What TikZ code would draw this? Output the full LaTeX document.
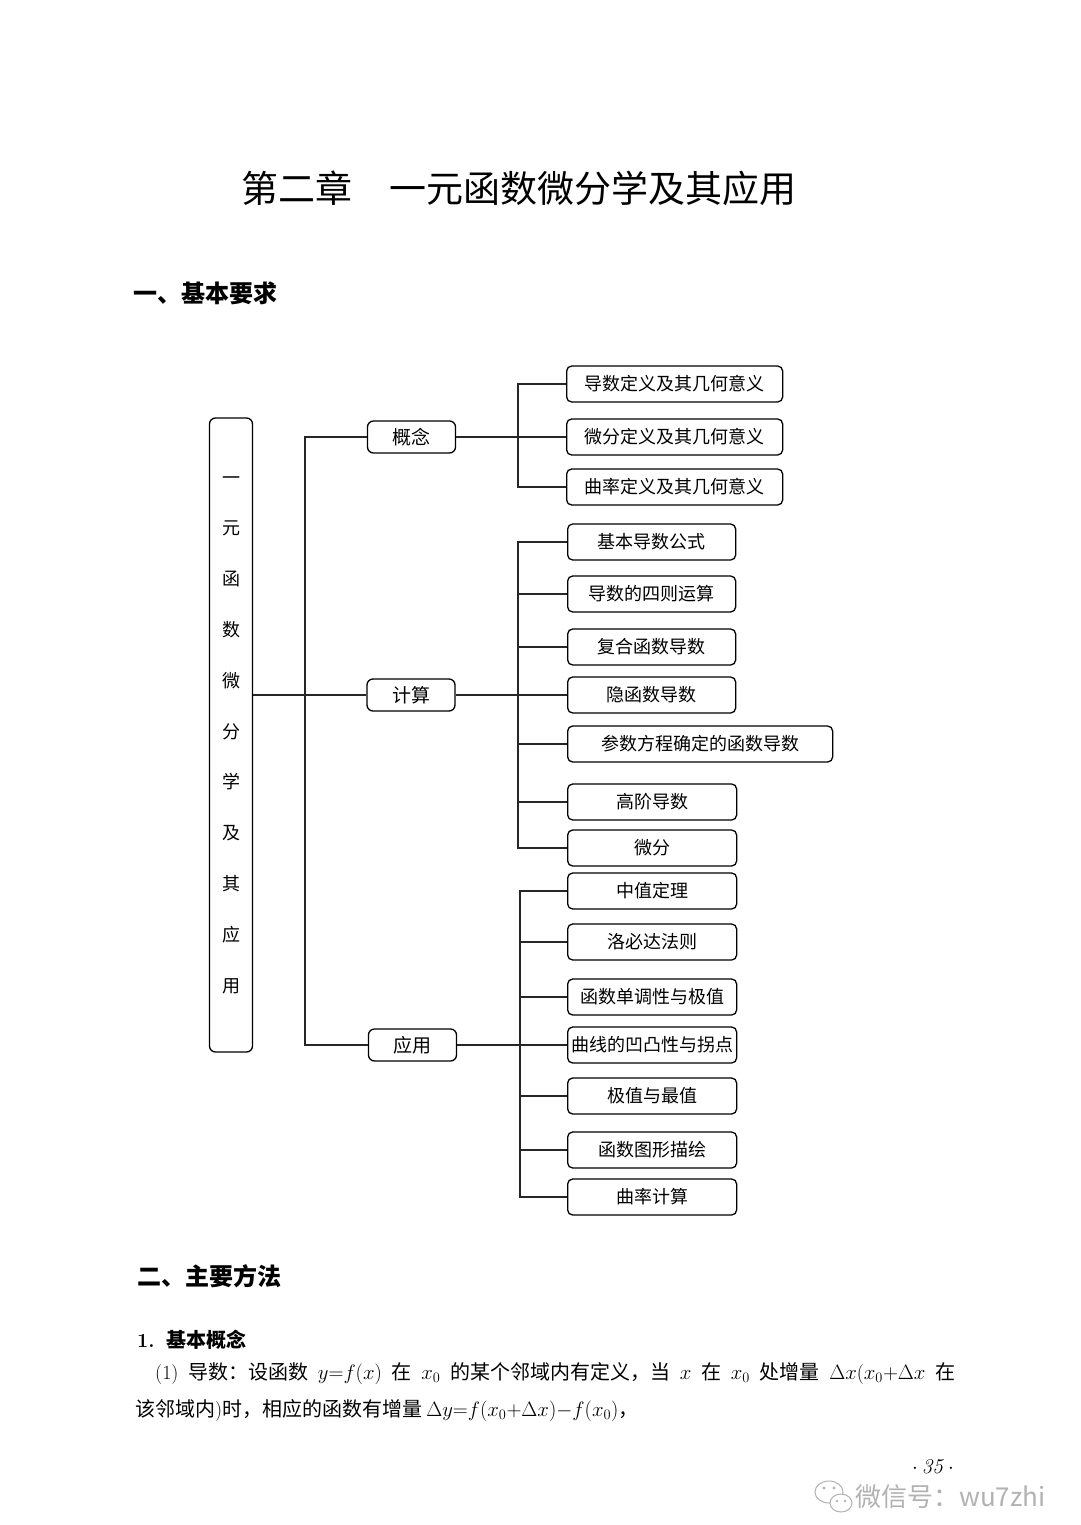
\documentclass[tikz,border=0pt]{standalone}
\usepackage{fontspec}
\newfontfamily\cjk{Noto Sans CJK SC}
\newcommand{\gp}{\hspace{3pt plus 1fil}}
\begin{document}
\begin{tikzpicture}[x=1pt,y=-1pt,
  lvone/.style={draw, line width=1.3pt, rounded corners=6pt, minimum width=43pt, minimum height=634pt, inner sep=0pt, font=\cjk\fontsize{18}{50.8}\selectfont, align=center},
  lvtwo/.style={draw, line width=1.3pt, rounded corners=6pt, minimum width=88pt, minimum height=32pt, inner sep=0pt, font=\cjk\fontsize{19}{19}\selectfont},
  leaf/.style={draw, line width=1.3pt, rounded corners=5pt, minimum height=36pt, inner sep=0pt, anchor=west, font=\cjk\fontsize{18}{18}\selectfont},
  conn/.style={line width=1.1pt, draw=black!85},
  head/.style={anchor=west, inner sep=0pt, font=\cjk\bfseries\fontsize{24}{24}\selectfont},
  para/.style={anchor=base west, inner sep=0pt, font=\cjk\fontsize{20}{20}\selectfont}
]
\useasboundingbox (0,0) rectangle (1080,1525);
\fill[white] (0,0) rectangle (1080,1525);

% title and headings
\node[font=\cjk\fontsize{37}{37}\selectfont] (title) at (519,188) {第二章\hspace{1em}一元函数微分学及其应用};
\node[head] (h1) at (133,293) {一、基本要求};

% tree
\node[lvone] (root) at (231,735) {一\\元\\函\\数\\微\\分\\学\\及\\其\\应\\用};
\node[lvtwo] (gn) at (411.5,437) {概念};
\node[lvtwo] (js) at (411,695) {计算};
\node[lvtwo] (yy) at (412.5,1045) {应用};

\node[leaf, minimum width=216pt] (g1) at (566,384) {导数定义及其几何意义};
\node[leaf, minimum width=216pt] (g2) at (566,437) {微分定义及其几何意义};
\node[leaf, minimum width=216pt] (g3) at (566,487) {曲率定义及其几何意义};

\node[leaf, minimum width=168pt] (j1) at (567,542) {基本导数公式};
\node[leaf, minimum width=168pt] (j2) at (567,594) {导数的四则运算};
\node[leaf, minimum width=168pt] (j3) at (567,647) {复合函数导数};
\node[leaf, minimum width=168pt] (j4) at (567,695) {隐函数导数};
\node[leaf, minimum width=265pt] (j5) at (567,744) {参数方程确定的函数导数};
\node[leaf, minimum width=169pt] (j6) at (567,802) {高阶导数};
\node[leaf, minimum width=169pt] (j7) at (567,848) {微分};

\node[leaf, minimum width=169pt] (y1) at (567,891) {中值定理};
\node[leaf, minimum width=169pt] (y2) at (567,942) {洛必达法则};
\node[leaf, minimum width=169pt] (y3) at (567,997) {函数单调性与极值};
\node[leaf, minimum width=169pt] (y4) at (567,1045) {曲线的凹凸性与拐点};
\node[leaf, minimum width=169pt] (y5) at (567,1096) {极值与最值};
\node[leaf, minimum width=169pt] (y6) at (567,1150) {函数图形描绘};
\node[leaf, minimum width=169pt] (y7) at (567,1197) {曲率计算};

% connectors
\coordinate (tr) at (305,700);
\draw[conn] (gn.west) -| (tr) |- (yy.west);
\draw[conn] (root.east |- js.west) -- (js.west);

\coordinate (bg) at (518,437);
\draw[conn] (gn.east) -- (g2.west);
\draw[conn] (g1.west) -| (bg) |- (g3.west);

\coordinate (bj) at (518,695);
\draw[conn] (js.east) -- (j4.west);
\draw[conn] (j1.west) -| (bj) |- (j7.west);
\foreach \n in {j2,j3,j5,j6} \draw[conn] (\n.west) -- (\n.west -| bj);

\coordinate (by) at (520,1045);
\draw[conn] (yy.east) -- (y4.west);
\draw[conn] (y1.west) -| (by) |- (y7.west);
\foreach \n in {y2,y3,y5,y6} \draw[conn] (\n.west) -- (\n.west -| by);

% text below
\node[head] (h2) at (137,1276) {二、主要方法};
\node[anchor=west, inner sep=0pt, font=\cjk\bfseries\fontsize{20}{20}\selectfont] (h3) at (137,1340) {{\rmfamily\bfseries 1.}\hspace{12pt}基本概念};
\node[para] (p1) at (155,1379) {\makebox[800pt][s]{{\rmfamily(1)}\gp 导数：设函数\gp\mbox{$y{=}f(x)$}\gp 在\gp\mbox{$x_0$}\gp 的某个邻域内有定义，当\gp\mbox{$x$}\gp 在\gp\mbox{$x_0$}\gp 处增量\gp\mbox{$\Delta x${\rmfamily(}$x_0{+}\Delta x$}\gp 在}};
\node[para] (p2) at (135,1416) {该邻域内{\rmfamily)}时，相应的函数有增量\hspace{4pt}$\Delta y{=}f(x_0{+}\Delta x){-}f(x_0)$，};

\node[font=\fontsize{21}{21}\selectfont] (pg) at (933,1467) {$\cdot$\hspace{4pt}\textit{35}\hspace{4pt}$\cdot$};

% watermark
\draw[black!30, line width=1pt, fill=white] (829,1492) ellipse (14 and 11);
\draw[black!30, line width=1pt, fill=white] (841,1503) ellipse (11 and 9);
\fill[black!30] (824,1488) circle (1.6) (834,1488) circle (1.6) (837,1501) circle (1.3) (845,1501) circle (1.3);
\node[anchor=west, inner sep=0pt, text=black!30, font=\cjk\fontsize{26}{26}\selectfont] (wm) at (855,1497) {微信号：wu7zhi};
\end{tikzpicture}
\end{document}
